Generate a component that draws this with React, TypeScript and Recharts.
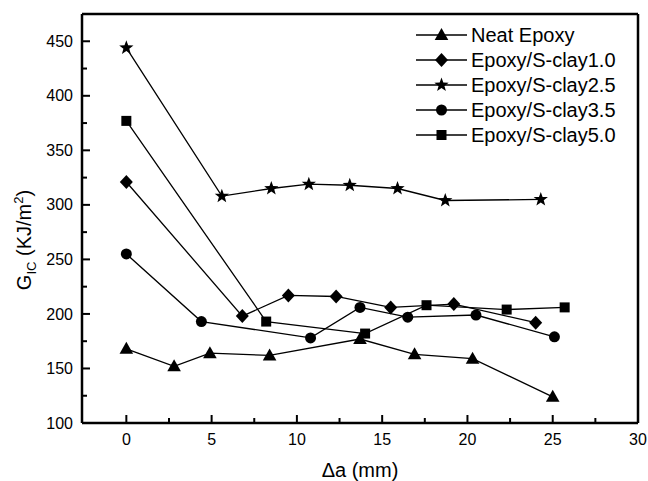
import React from 'react';
import { LineChart, Line, XAxis, YAxis, ReferenceLine, Legend } from 'recharts';

const FONT = '"Liberation Sans", Arial, Helvetica, sans-serif';

const seriesNames = ['Neat Epoxy', 'Epoxy/S-clay1.0', 'Epoxy/S-clay2.5', 'Epoxy/S-clay3.5', 'Epoxy/S-clay5.0'];
const seriesShapes = ['triangle', 'diamond', 'star', 'circle', 'square'];

const neatEpoxyX = [0, 2.8, 4.9, 8.4, 13.7, 16.9, 20.3, 25.0];
const neatEpoxyY = [168, 152, 164, 162, 177, 163, 159, 124];

const clay10X = [0, 6.8, 9.5, 12.3, 15.5, 19.2, 24.0];
const clay10Y = [321, 198, 217, 216, 206, 209, 192];

const clay25X = [0, 5.6, 8.5, 10.7, 13.1, 15.9, 18.7, 24.3];
const clay25Y = [444, 308, 315, 319, 318, 315, 304, 305];

const clay35X = [0, 4.4, 10.8, 13.7, 16.5, 20.5, 25.1];
const clay35Y = [255, 193, 178, 206, 197, 199, 179];

const clay50X = [0, 8.2, 14.0, 17.6, 22.3, 25.7];
const clay50Y = [377, 193, 182, 208, 204, 206];

const xTicks = [0, 2.5, 5, 7.5, 10, 12.5, 15, 17.5, 20, 22.5, 25, 27.5, 30];
const yTicks = [100, 125, 150, 175, 200, 225, 250, 275, 300, 325, 350, 375, 400, 425, 450];
const xDomain = [-2.6, 30];
const yDomain = [100, 475];

const zip = (xs: number[], ys: number[]) => xs.map((x, i) => ({ x, y: ys[i] }));

const seriesData = [
  zip(neatEpoxyX, neatEpoxyY),
  zip(clay10X, clay10Y),
  zip(clay25X, clay25Y),
  zip(clay35X, clay35Y),
  zip(clay50X, clay50Y),
];

function Marker({ shape, cx, cy }: { shape: string; cx: number; cy: number }) {
  if (cx == null || cy == null) return null;
  if (shape === 'triangle') {
    return <polygon points={`${cx},${cy - 7} ${cx - 6.8},${cy + 5} ${cx + 6.8},${cy + 5}`} fill="#000" />;
  }
  if (shape === 'diamond') {
    return <polygon points={`${cx},${cy - 7} ${cx + 6.5},${cy} ${cx},${cy + 7} ${cx - 6.5},${cy}`} fill="#000" />;
  }
  if (shape === 'star') {
    const pts: string[] = [];
    for (let i = 0; i < 10; i++) {
      const a = ((-90 + i * 36) * Math.PI) / 180;
      const r = i % 2 === 0 ? 7.5 : 3.1;
      pts.push(`${cx + r * Math.cos(a)},${cy + r * Math.sin(a)}`);
    }
    return <polygon points={pts.join(' ')} fill="#000" />;
  }
  if (shape === 'circle') {
    return <circle cx={cx} cy={cy} r={5.5} fill="#000" />;
  }
  return <rect x={cx - 5} y={cy - 5} width={10} height={10} fill="#000" />;
}

const XTick = (props: any) => {
  const { x, y, payload } = props;
  const major = payload.value % 5 === 0;
  return (
    <g>
      <line x1={x} x2={x} y1={y} y2={y - (major ? 8 : 5)} stroke="#000" strokeWidth={2} />
      {major && (
        <text x={x} y={y + 22} textAnchor="middle" fontSize={16} fontFamily={FONT} fill="#000">
          {payload.value}
        </text>
      )}
    </g>
  );
};

const YTick = (props: any) => {
  const { x, y, payload } = props;
  const major = payload.value % 50 === 0;
  return (
    <g>
      <line x1={x} x2={x + (major ? 8 : 5)} y1={y} y2={y} stroke="#000" strokeWidth={2} />
      {major && (
        <text x={x - 9} y={y} dy="0.35em" textAnchor="end" fontSize={16} fontFamily={FONT} fill="#000">
          {payload.value}
        </text>
      )}
    </g>
  );
};

const renderLegend = () => (
  <div style={{ fontFamily: FONT, fontSize: 20, color: '#000' }}>
    {seriesNames.map((name, i) => (
      <div key={name} style={{ display: 'flex', alignItems: 'center', height: 25, whiteSpace: 'nowrap' }}>
        <svg width={51} height={20} style={{ display: 'block' }}>
          <line x1={0} y1={10} x2={51} y2={10} stroke="#000" strokeWidth={1.3} />
          <Marker shape={seriesShapes[i]} cx={25.5} cy={10} />
        </svg>
        <span style={{ marginLeft: 4 }}>{name}</span>
      </div>
    ))}
  </div>
);

export default function App() {
  return (
    <div style={{ position: 'absolute', left: 0, top: 0, width: 648, height: 481, background: '#fff' }}>
      <LineChart width={648} height={481} margin={{ top: 14, right: 10, left: 0, bottom: 0 }}>
        <XAxis
          dataKey="x"
          type="number"
          domain={xDomain}
          ticks={xTicks}
          interval={0}
          allowDataOverflow
          height={58}
          tickSize={0}
          tickMargin={0}
          tickLine={false}
          axisLine={{ stroke: '#000', strokeWidth: 2.5 }}
          tick={<XTick />}
          label={{
            content: () => (
              <text x={360} y={477} textAnchor="middle" fontSize={20} fontFamily={FONT} fill="#000">
                Δa (mm)
              </text>
            ),
          }}
        />
        <YAxis
          dataKey="y"
          type="number"
          domain={yDomain}
          ticks={yTicks}
          interval={0}
          allowDataOverflow
          width={82}
          tickSize={0}
          tickMargin={0}
          tickLine={false}
          axisLine={{ stroke: '#000', strokeWidth: 2.5 }}
          tick={<YTick />}
          label={{
            content: () => (
              <text
                x={31}
                y={240}
                textAnchor="middle"
                fontSize={20}
                fontFamily={FONT}
                fill="#000"
                transform="rotate(-90, 31, 240)"
              >
                G
                <tspan fontSize={13} dy={5}>IC</tspan>
                <tspan dy={-5}> (KJ/m</tspan>
                <tspan fontSize={13} dy={-8}>2</tspan>
                <tspan dy={8}>)</tspan>
              </text>
            ),
          }}
        />
        <ReferenceLine y={yDomain[1]} stroke="#000" strokeWidth={2.5} />
        <ReferenceLine x={xDomain[1]} stroke="#000" strokeWidth={2.5} />
        <Legend
          layout="vertical"
          align="center"
          verticalAlign="middle"
          content={renderLegend}
          wrapperStyle={{ left: 416, top: 22.5, width: 225 }}
        />
        {seriesNames.map((name, i) => (
          <Line
            key={name}
            name={name}
            data={seriesData[i]}
            dataKey="y"
            stroke="#000"
            strokeWidth={1.3}
            isAnimationActive={false}
            legendType="none"
            dot={(p: any) => <Marker key={`${name}-${p.index}`} shape={seriesShapes[i]} cx={p.cx} cy={p.cy} />}
            activeDot={false}
          />
        ))}
      </LineChart>
    </div>
  );
}
